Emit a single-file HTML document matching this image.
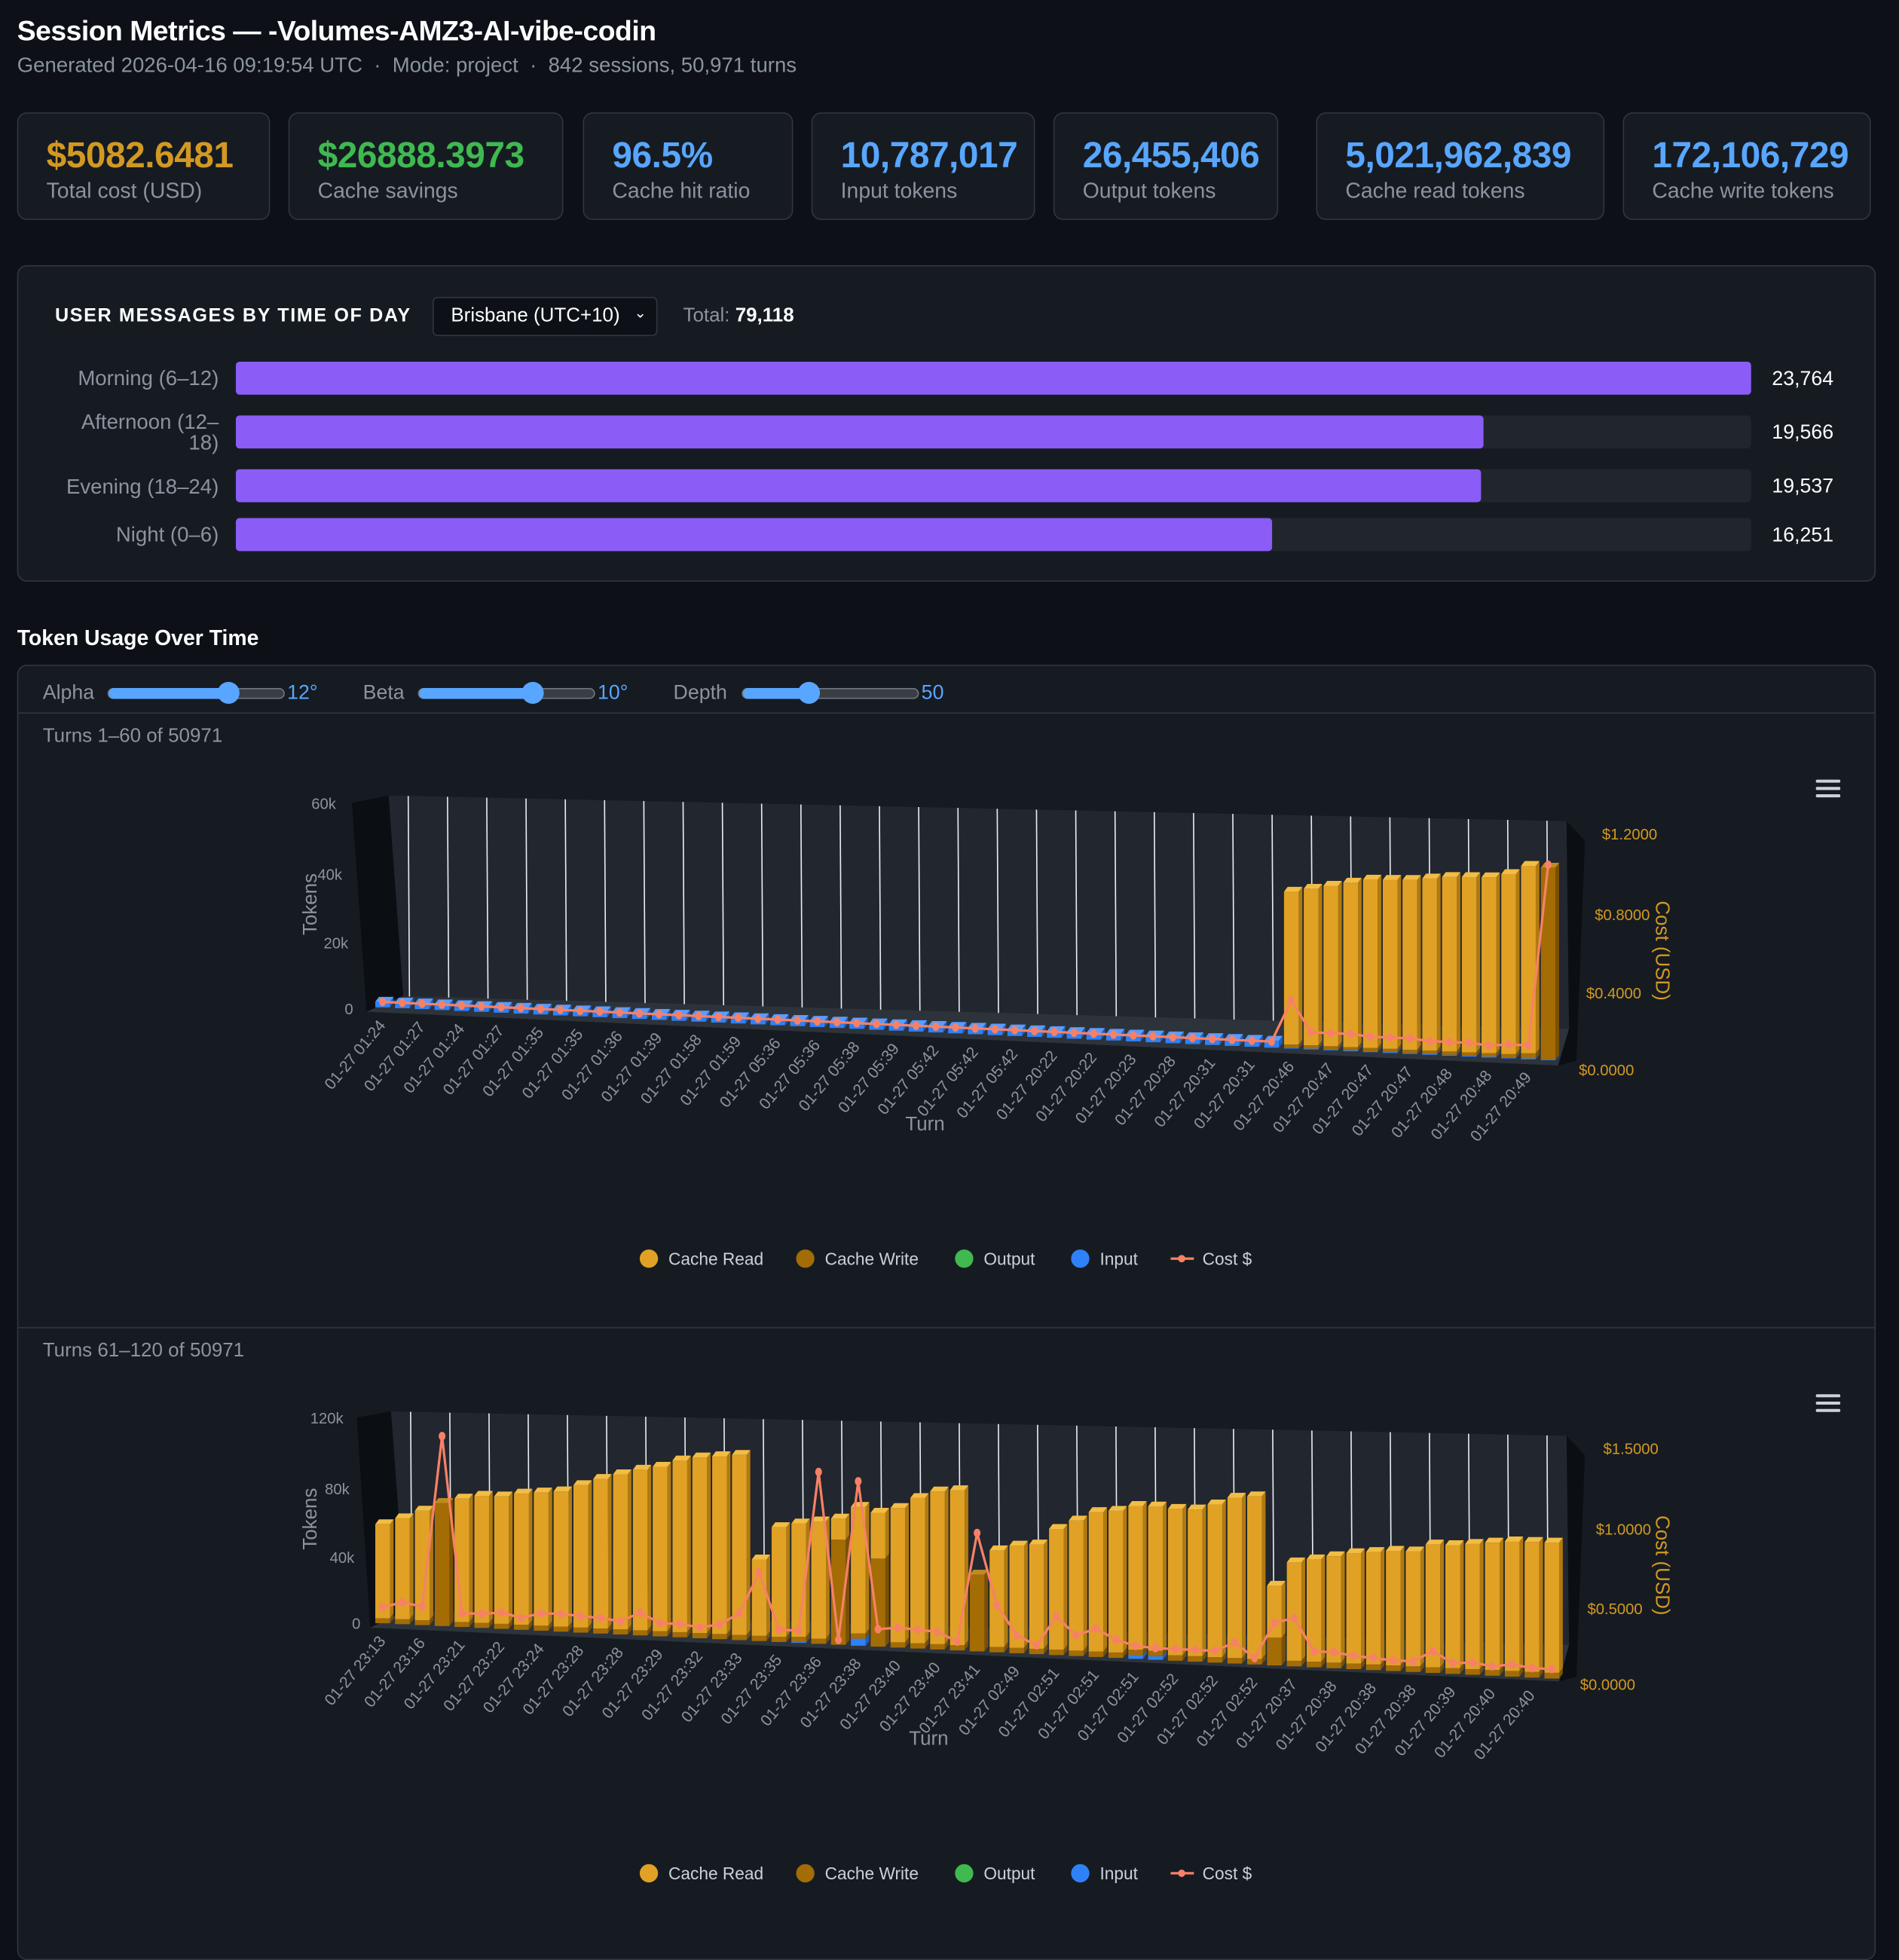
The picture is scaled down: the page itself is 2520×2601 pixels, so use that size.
<!DOCTYPE html>
<html><head><meta charset="utf-8">
<style>
html,body{margin:0;padding:0;width:2520px;height:2542px;overflow:hidden;background:#0d1117;}
#wrap{position:absolute;left:0;top:0;width:1554px;height:1568px;transform:scale(1.6216);transform-origin:0 0;font-family:"Liberation Sans",sans-serif;color:#e6edf3;}
.abs{position:absolute;}
.title{left:14px;top:12px;font-size:23px;font-weight:bold;color:#fff;white-space:nowrap;width:522px;overflow:hidden;letter-spacing:-0.3px}
.sub{left:14px;top:44px;font-size:17px;color:#8b949e;white-space:nowrap}
.card{top:92px;height:88px;background:#161b22;border:1px solid #30363d;border-radius:8px;box-sizing:border-box}
.card .v{position:absolute;left:23px;top:18px;font-size:29.5px;font-weight:bold;white-space:nowrap;letter-spacing:-0.3px}
.card .l{position:absolute;left:23px;top:53px;font-size:17.5px;color:#8b949e;white-space:nowrap}
.panel{left:14px;top:217px;width:1521px;height:259px;background:#161b22;border:1px solid #30363d;border-radius:8px;box-sizing:border-box}
.rowlab{position:absolute;right:1375px;font-size:17px;color:#8b949e;text-align:right;line-height:17px}
.track{position:absolute;left:193px;width:1240px;height:27px;background:#21262d;border-radius:3px}
.fill{position:absolute;left:0;top:0;height:27px;background:#8b5cf6;border-radius:3px}
.rv{position:absolute;left:1450px;font-size:16.5px;color:#fff}
.chartbox{left:14px;top:544px;width:1521px;height:1060px;background:#161b22;border:1px solid #30363d;border-radius:8px;box-sizing:border-box}
.ctl{font-size:16.5px;color:#8b949e;top:558px}
.sl{top:563px;height:9px;width:145px;background:#3a3d42;border:1px solid #6e7681;border-radius:5px;box-sizing:border-box}
.sl .f{position:absolute;left:0;top:-1px;height:9px;background:#58a6ff;border-radius:5px}
.knob{width:18px;height:18px;border-radius:9px;background:#58a6ff;top:558px}
.deg{font-size:16.5px;color:#58a6ff;top:558px}
</style></head>
<body>
<div id="wrap">
<div class="abs title">Session Metrics — -Volumes-AMZ3-AI-vibe-coding</div>
<div class="abs sub">Generated 2026-04-16 09:19:54 UTC &nbsp;·&nbsp; Mode: project &nbsp;·&nbsp; 842 sessions, 50,971 turns</div>

<div class="abs card" style="left:14px;width:207px"><div class="v" style="color:#d29922">$5082.6481</div><div class="l">Total cost (USD)</div></div>
<div class="abs card" style="left:236px;width:225px"><div class="v" style="color:#3fb950">$26888.3973</div><div class="l">Cache savings</div></div>
<div class="abs card" style="left:477px;width:172px"><div class="v" style="color:#58a6ff">96.5%</div><div class="l">Cache hit ratio</div></div>
<div class="abs card" style="left:664px;width:183px"><div class="v" style="color:#58a6ff">10,787,017</div><div class="l">Input tokens</div></div>
<div class="abs card" style="left:862px;width:184px"><div class="v" style="color:#58a6ff">26,455,406</div><div class="l">Output tokens</div></div>
<div class="abs card" style="left:1077px;width:236px"><div class="v" style="color:#58a6ff">5,021,962,839</div><div class="l">Cache read tokens</div></div>
<div class="abs card" style="left:1328px;width:203px"><div class="v" style="color:#58a6ff">172,106,729</div><div class="l">Cache write tokens</div></div>

<div class="abs panel"></div>
<div class="abs" style="left:45px;top:250px;font-size:15.5px;font-weight:bold;letter-spacing:1px;color:#fff">USER MESSAGES BY TIME OF DAY</div>
<div class="abs" style="left:354px;top:243px;width:184px;height:32px;background:#0d1117;border:1px solid #30363d;border-radius:4px;box-sizing:border-box;font-size:16px;color:#fff;padding:6px 0 0 14px">Brisbane (UTC+10)<span style="position:absolute;right:8px;top:5px;font-size:12px">&#8964;</span></div>
<div class="abs" style="left:559px;top:250px;font-size:16px;color:#8b949e">Total: <b style="color:#fff">79,118</b></div>

<div class="rowlab" style="top:301px">Morning (6–12)</div>
<div class="track" style="top:296px"><div class="fill" style="width:1240px"></div></div>
<div class="rv" style="top:301px">23,764</div>
<div class="rowlab" style="top:337px">Afternoon (12–<br>18)</div>
<div class="track" style="top:340px"><div class="fill" style="width:1021px"></div></div>
<div class="rv" style="top:345px">19,566</div>
<div class="rowlab" style="top:390px">Evening (18–24)</div>
<div class="track" style="top:384px"><div class="fill" style="width:1019px"></div></div>
<div class="rv" style="top:389px">19,537</div>
<div class="rowlab" style="top:429px">Night (0–6)</div>
<div class="track" style="top:424px"><div class="fill" style="width:848px"></div></div>
<div class="rv" style="top:429px">16,251</div>

<div class="abs" style="left:14px;top:512px;font-size:17.5px;font-weight:bold;color:#fff">Token Usage Over Time</div>
<div class="abs chartbox"></div>
<div class="abs ctl" style="left:35px">Alpha</div>
<div class="abs sl" style="left:88px"><div class="f" style="width:100px"></div></div>
<div class="abs knob" style="left:178px"></div>
<div class="abs deg" style="left:235px">12°</div>
<div class="abs ctl" style="left:297px">Beta</div>
<div class="abs sl" style="left:342px"><div class="f" style="width:95px"></div></div>
<div class="abs knob" style="left:427px"></div>
<div class="abs deg" style="left:489px">10°</div>
<div class="abs ctl" style="left:551px">Depth</div>
<div class="abs sl" style="left:607px"><div class="f" style="width:56px"></div></div>
<div class="abs knob" style="left:653px"></div>
<div class="abs deg" style="left:754px">50</div>
<div class="abs" style="left:15px;top:583px;width:1519px;height:1px;background:#30363d"></div>
<div class="abs" style="left:35px;top:594px;font-size:16px;color:#8b949e">Turns 1–60 of 50971</div>
<div class="abs" style="left:15px;top:1086px;width:1519px;height:1px;background:#30363d"></div>
<div class="abs" style="left:35px;top:1097px;font-size:16px;color:#8b949e">Turns 61–120 of 50971</div>

<svg id="charts" class="abs" style="left:0;top:0" width="1554" height="1568" viewBox="0 0 1554 1568" font-family="Liberation Sans, sans-serif">
<g>
<polygon points="288,657 318,651 330,815 300,828" fill="#0b0e13"/>
<polygon points="318,651 1282,672 1284,842 330,815" fill="#22262e"/>
<polygon points="300,828 330,815 1284,842 1275,872" fill="#2d333b"/>
<polygon points="1282,672 1297,688 1290,868 1275,872 1284,842" fill="#0b0e13"/>
</g>
<g>
<polygon points="292,1160 320,1155 332,1318 303,1332" fill="#0b0e13"/>
<polygon points="320,1155 1282,1175 1284,1346 332,1318" fill="#22262e"/>
<polygon points="303,1332 332,1318 1284,1346 1276,1376" fill="#2d333b"/>
<polygon points="1282,1175 1297,1191 1290,1372 1276,1376 1284,1346" fill="#0b0e13"/>
</g>
<g fill="#8b949e" font-size="12.5" text-anchor="end">
<text x="275" y="662">60k</text>
<text x="280" y="720">40k</text>
<text x="285" y="776">20k</text>
<text x="289" y="830">0</text>
<text x="281" y="1165">120k</text>
<text x="286" y="1223">80k</text>
<text x="290" y="1279">40k</text>
<text x="295" y="1333">0</text>
</g>
<g fill="#d29922" font-size="12.5">
<text x="1311" y="687">$1.2000</text>
<text x="1305" y="753">$0.8000</text>
<text x="1298" y="817">$0.4000</text>
<text x="1292" y="880">$0.0000</text>
<text x="1312" y="1190">$1.5000</text>
<text x="1306" y="1256">$1.0000</text>
<text x="1299" y="1321">$0.5000</text>
<text x="1293" y="1383">$0.0000</text>
</g>
<text transform="translate(259,740) rotate(-90)" text-anchor="middle" fill="#8b949e" font-size="16">Tokens</text>
<text transform="translate(1355,778) rotate(90)" text-anchor="middle" fill="#d29922" font-size="16">Cost (USD)</text>
<text x="757" y="925" text-anchor="middle" fill="#8b949e" font-size="16">Turn</text>
<text transform="translate(259,1243) rotate(-90)" text-anchor="middle" fill="#8b949e" font-size="16">Tokens</text>
<text transform="translate(1355,1281) rotate(90)" text-anchor="middle" fill="#d29922" font-size="16">Cost (USD)</text>
<text x="760" y="1428" text-anchor="middle" fill="#8b949e" font-size="16">Turn</text>
<g fill="#c9d1d9"><rect x="1486" y="638" width="20" height="2.5" rx="1"/><rect x="1486" y="644" width="20" height="2.5" rx="1"/><rect x="1486" y="650" width="20" height="2.5" rx="1"/></g>
<g fill="#c9d1d9"><rect x="1486" y="1141" width="20" height="2.5" rx="1"/><rect x="1486" y="1147" width="20" height="2.5" rx="1"/><rect x="1486" y="1153" width="20" height="2.5" rx="1"/></g>
<g id="layer"></g>
</svg>
</div>
<script>
// ---- Chart 1 data (turns 1-60) ----
const tickLabels1 = ["01-27 01:24","01-27 01:27","01-27 01:24","01-27 01:27","01-27 01:35","01-27 01:35","01-27 01:36","01-27 01:39","01-27 01:58","01-27 01:59","01-27 05:36","01-27 05:36","01-27 05:38","01-27 05:39","01-27 05:42","01-27 05:42","01-27 05:42","01-27 20:22","01-27 20:22","01-27 20:23","01-27 20:28","01-27 20:31","01-27 20:31","01-27 20:46","01-27 20:47","01-27 20:47","01-27 20:47","01-27 20:48","01-27 20:48","01-27 20:49"];
const cacheRead1 = [0,0,0,0,0,0,0,0,0,0,0,0,0,0,0,0,0,0,0,0,0,0,0,0,0,0,0,0,0,0,0,0,0,0,0,0,0,0,0,0,0,0,0,0,0,0,48000,49000,50000,51000,52000,52000,52000,52500,53000,53000,53000,54000,56000,0];
const cacheWrite1 = [0,0,0,0,0,0,0,0,0,0,0,0,0,0,0,0,0,0,0,0,0,0,0,0,0,0,0,0,0,0,0,0,0,0,0,0,0,0,0,0,0,0,0,0,0,0,1000,1000,1000,1000,1000,1000,1000,1000,1000,1000,1000,1000,1500,57000];
const output1 = [0,0,0,0,0,0,0,0,0,0,0,0,0,0,0,0,0,0,0,0,0,0,0,0,0,0,0,0,0,0,0,0,0,0,0,0,0,0,0,0,0,0,0,0,0,0,0,0,0,0,0,0,0,0,0,0,0,0,0,0];
const input1 = [2200,2200,2200,2200,2200,2200,2200,2200,2200,2200,2200,2200,2200,2200,2200,2200,2200,2200,2200,2200,2200,2200,2200,2200,2200,2200,2200,2200,2200,2200,2200,2200,2200,2200,2200,2200,2200,2200,2200,2200,2200,2200,2200,2200,2200,2200,300,300,300,300,300,300,300,300,300,300,300,300,300,300];
const cost1 = [0.02,0.02,0.02,0.02,0.02,0.02,0.02,0.02,0.02,0.02,0.02,0.02,0.02,0.02,0.02,0.02,0.02,0.02,0.02,0.02,0.02,0.02,0.02,0.02,0.02,0.02,0.02,0.02,0.02,0.02,0.02,0.02,0.02,0.02,0.02,0.02,0.02,0.02,0.02,0.02,0.02,0.02,0.02,0.02,0.02,0.02,0.25,0.08,0.08,0.08,0.07,0.07,0.07,0.06,0.06,0.06,0.05,0.06,0.06,1.0];
// ---- Chart 2 data (turns 61-120) ----
const tickLabels2 = ["01-27 23:13","01-27 23:16","01-27 23:21","01-27 23:22","01-27 23:24","01-27 23:28","01-27 23:28","01-27 23:29","01-27 23:32","01-27 23:33","01-27 23:35","01-27 23:36","01-27 23:38","01-27 23:40","01-27 23:40","01-27 23:41","01-27 02:49","01-27 02:51","01-27 02:51","01-27 02:51","01-27 02:52","01-27 02:52","01-27 02:52","01-27 20:37","01-27 20:38","01-27 20:38","01-27 20:38","01-27 20:39","01-27 20:40","01-27 20:40"];
const cacheRead2 = [57000,61000,66000,0,74000,76000,76000,78000,79000,80000,84000,88000,91000,94000,96000,100000,102000,103000,104000,44000,63000,65000,67000,12000,72000,26000,76000,82000,86000,87000,0,54000,57000,58000,67000,72000,77000,78000,79000,79000,80000,80000,83000,87000,88000,28000,53000,55000,57000,59000,60000,61000,61000,65000,65000,66000,67000,68000,68000,68000];
const cacheWrite2 = [3000,3000,3000,74000,3000,3000,3000,3000,3000,3000,3000,3000,3000,3000,3000,3000,3000,3000,3000,3000,3000,3000,3000,60000,3000,50000,3000,3000,3000,3000,43000,3000,3000,3000,3000,3000,3000,3000,3000,3000,3000,3000,3000,3000,3000,15000,3000,3000,3000,3000,3000,3000,3000,3000,3000,3000,3000,3000,3000,3000];
const output2 = [0,0,0,0,0,0,0,0,0,0,0,0,0,0,0,0,0,0,0,0,0,0,0,0,0,0,0,0,0,0,0,0,0,0,0,0,0,0,0,0,0,0,0,0,0,0,0,0,0,0,0,0,0,0,0,0,0,0,0,0];
const input2 = [0,0,0,0,0,0,0,0,0,0,0,0,0,0,0,0,0,0,0,0,0,500,0,0,4000,0,0,0,0,0,0,0,0,0,0,0,0,0,2000,2000,0,0,0,0,0,0,0,0,0,0,0,0,0,0,0,0,0,0,0,0];
const cost2 = [0.12,0.17,0.14,1.63,0.1,0.1,0.12,0.08,0.13,0.13,0.12,0.11,0.09,0.17,0.09,0.09,0.07,0.1,0.2,0.54,0.08,0.08,1.37,0.02,1.3,0.12,0.14,0.13,0.12,0.05,0.91,0.35,0.12,0.05,0.28,0.14,0.2,0.12,0.08,0.07,0.07,0.07,0.07,0.14,0.03,0.3,0.34,0.1,0.1,0.08,0.07,0.06,0.06,0.14,0.06,0.07,0.05,0.07,0.05,0.05];

const NS = "http://www.w3.org/2000/svg";
const layer = document.getElementById('layer');
function mk(tag, attrs, parent){const e=document.createElementNS(NS,tag);for(const k in attrs)e.setAttribute(k,attrs[k]);(parent||layer).appendChild(e);return e;}

function drawChart(id, geo, cr, cw, out, inp, cost, ticks){
  const n = cr.length;
  const g = mk('g',{});
  
  
  for(let k=0;k<30;k++){
    const t=(k+0.5)/30;
    const x=geo.bxL+t*(geo.bxR-geo.bxL);
    const yt=geo.btL+t*(geo.btR-geo.btL);
    const yb=geo.bbL+t*(geo.bbR-geo.bbL);
    const ln=mk('line',{x1:x,y1:yt,x2:x+1,y2:yb,stroke:'#e6edf3','stroke-width':1},g);
    
    
  }
  const xAt=i=>geo.xL+(i+0.5)/n*(geo.xR-geo.xL);
  const floorAt=x=>geo.yL+(x-geo.xL)/(geo.xR-geo.xL)*(geo.yR-geo.yL);
  const scaleAt=i=>{const t=i/(n-1);return (geo.sL+t*(geo.sR-geo.sL))/geo.max;};
  const cScaleAt=i=>{const t=i/(n-1);return geo.cL+t*(geo.cR-geo.cL);};
  const series=[[inp,'#2f81f7','#1f5fc0','#5a9cff','input'],[out,'#3fb950','#2a8a3a','#6bd27d','output'],[cw,'#a46c05','#7a5004','#c08a20','cache-write'],[cr,'#e0a125','#b07a10','#f2bd45','cache-read']];
  for(let i=0;i<n;i++){
    const x=xAt(i), yb=floorAt(x)-2, s=scaleAt(i), w=geo.w;
    let acc=0;
    let tot=inp[i]+out[i]+cw[i]+cr[i];
    for(const [arr,fc,sc,tc,nm] of series){
      const v=arr[i]; if(!v) continue;
      const y0=yb-acc*s, y1=yb-(acc+v)*s; acc+=v;
      const side=mk('polygon',{points:`${x+w/2},${y1} ${x+w/2+3},${y1-4} ${x+w/2+3},${y0-4} ${x+w/2},${y0}`,fill:sc},g);
      
      
      const r=mk('rect',{x:x-w/2,y:y1,width:w,height:Math.max(0.5,y0-y1),fill:fc},g);
      
      
      if(acc===tot){
        const top=mk('polygon',{points:`${x-w/2},${y1} ${x+w/2},${y1} ${x+w/2+3},${y1-4} ${x-w/2+3},${y1-4}`,fill:tc},g);
        
        
      }
    }
  }
  const pts=cost.map((c,i)=>{const x=xAt(i);return [x,floorAt(x)-4-c*cScaleAt(i)];});
  const pl=mk('polyline',{points:pts.map(p=>p.join(',')).join(' '),fill:'none',stroke:'#f78166','stroke-width':2},g);
  
  
  pts.forEach((p,i)=>{
    const c=mk('ellipse',{cx:p[0],cy:p[1],rx:2.8,ry:3.5,fill:'#f78166'},g);
    
    
  });
  ticks.forEach((lab,k)=>{
    const i=k*2; const x=xAt(i); const y=floorAt(x)+13;
    const t=mk('text',{transform:`translate(${x+3},${y}) rotate(-50)`,'text-anchor':'end',fill:'#8b949e','font-size':13},g);
    t.textContent=lab;
    
    
  });
  const items=[['Cache Read','#e0a125'],['Cache Write','#a46c05'],['Output','#3fb950'],['Input','#2f81f7']];
  const lx=[531,659,789,884];
  items.forEach(([nm,col],k)=>{
    const c=mk('circle',{cx:lx[k],cy:geo.legY-4,r:7.5,fill:col},g);
    
    
    const t=mk('text',{x:lx[k]+16,y:geo.legY+1,fill:'#c9d1d9','font-size':14},g);
    t.textContent=nm;
    
    
  });
  const ll=mk('line',{x1:958,y1:geo.legY-4,x2:977,y2:geo.legY-4,stroke:'#f78166','stroke-width':2},g);
  
  
  const lc=mk('circle',{cx:967,cy:geo.legY-4,r:3,fill:'#f78166'},g);
  
  
  const lt=mk('text',{x:984,y:geo.legY+1,fill:'#c9d1d9','font-size':14},g);
  lt.textContent='Cost $';
  
  
}
drawChart('chart1',{xL:305,yL:826,xR:1275,yR:870,max:60000,sL:125,sR:165,cL:121,cR:158,w:12,
  bxL:318,bxR:1282,btL:651,btR:672,bbL:815,bbR:842,legY:1034},cacheRead1,cacheWrite1,output1,input1,cost1,tickLabels1);
drawChart('chart2',{xL:305,yL:1330,xR:1278,yR:1376,max:120000,sL:162,sR:188,cL:93,cR:115,w:12,
  bxL:320,bxR:1282,btL:1155,btR:1175,bbL:1318,bbR:1346,legY:1537},cacheRead2,cacheWrite2,output2,input2,cost2,tickLabels2);
</script>
</body></html>
